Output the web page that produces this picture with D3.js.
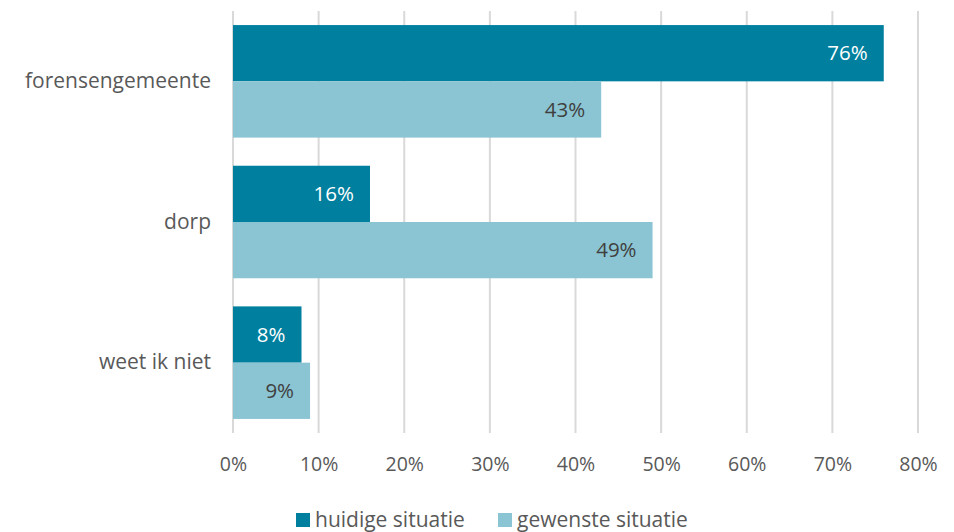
<!DOCTYPE html>
<html>
<head>
<meta charset="utf-8">
<script src="https://cdn.jsdelivr.net/npm/d3@7"></script>
<style>
  body { margin: 0; background: #fff; }
  text { font-family: "Open Sans", "Noto Sans", sans-serif; }
</style>
</head>
<body>
<div id="chart"></div>
<script>
// data
const categories = ["forensengemeente", "dorp", "weet ik niet"];
const seriesNames = ["huidige situatie", "gewenste situatie"];
const huidige = [76, 16, 8];
const gewenste = [43, 49, 9];
const xTicks = [0, 10, 20, 30, 40, 50, 60, 70, 80];

const width = 954, height = 532;
const margin = { top: 11, right: 36, bottom: 99, left: 233 };
const innerW = width - margin.left - margin.right;
const innerH = height - margin.top - margin.bottom;

const colors = { "huidige situatie": "#007f9e", "gewenste situatie": "#8bc5d3" };
const labelColors = { "huidige situatie": "#ffffff", "gewenste situatie": "#404040" };

const svg = d3.select("#chart").append("svg")
    .attr("width", width).attr("height", height);
const g = svg.append("g").attr("transform", `translate(${margin.left},${margin.top})`);

const x = d3.scaleLinear().domain([0, 80]).range([0, innerW]);
const y = d3.scaleBand().domain(categories).range([0, innerH]).paddingInner(0.2).paddingOuter(0.1);
const ySub = d3.scaleBand().domain(seriesNames).range([0, y.bandwidth()]);

// gridlines
g.append("g").selectAll("line")
    .data(xTicks)
    .join("line")
    .attr("x1", d => x(d)).attr("x2", d => x(d))
    .attr("y1", 0).attr("y2", innerH)
    .attr("stroke", "#d9d9d9").attr("stroke-width", 2);

// bars
const rows = categories.map((c, i) => ({
    cat: c,
    vals: [
        { s: seriesNames[0], v: huidige[i] },
        { s: seriesNames[1], v: gewenste[i] }
    ]
}));

const grp = g.selectAll(".grp")
    .data(rows)
    .join("g")
    .attr("class", "grp")
    .attr("transform", d => `translate(0,${y(d.cat)})`);

grp.selectAll("rect")
    .data(d => d.vals)
    .join("rect")
    .attr("x", x(0))
    .attr("y", d => ySub(d.s))
    .attr("width", d => x(d.v) - x(0))
    .attr("height", ySub.bandwidth())
    .attr("fill", d => colors[d.s]);

grp.selectAll("text")
    .data(d => d.vals)
    .join("text")
    .attr("x", d => x(d.v) - 16)
    .attr("y", d => ySub(d.s) + ySub.bandwidth() / 2)
    .attr("dy", "0.35em")
    .attr("text-anchor", "end")
    .attr("font-size", 20.5)
    .attr("fill", d => labelColors[d.s])
    .text(d => d.v + "%");

// category labels
const yAxis = g.append("g").call(d3.axisLeft(y).tickSize(0).tickPadding(22));
yAxis.select(".domain").remove();
yAxis.selectAll("text")
    .attr("font-family", "\"Open Sans\", sans-serif")
    .attr("font-size", 21)
    .attr("fill", "#595959");

// x axis labels
const xAxis = g.append("g")
    .attr("transform", `translate(0,${innerH})`)
    .call(d3.axisBottom(x).tickValues(xTicks).tickSize(0).tickPadding(24).tickFormat(d => d + "%"));
xAxis.select(".domain").remove();
xAxis.selectAll("text")
    .attr("font-family", "\"Open Sans\", sans-serif")
    .attr("font-size", 19.5)
    .attr("fill", "#595959");

// legend
const legend = svg.append("g").attr("transform", "translate(296,520)");
const legX = [0, 202];
seriesNames.forEach((s, i) => {
    const item = legend.append("g").attr("transform", `translate(${legX[i]},0)`);
    item.append("rect").attr("x", 0).attr("y", -7).attr("width", 14).attr("height", 14).attr("fill", colors[s]);
    item.append("text").attr("x", 19).attr("y", 0).attr("dy", "0.35em")
        .attr("font-size", 21).attr("fill", "#595959").text(s);
});
</script>
</body>
</html>
